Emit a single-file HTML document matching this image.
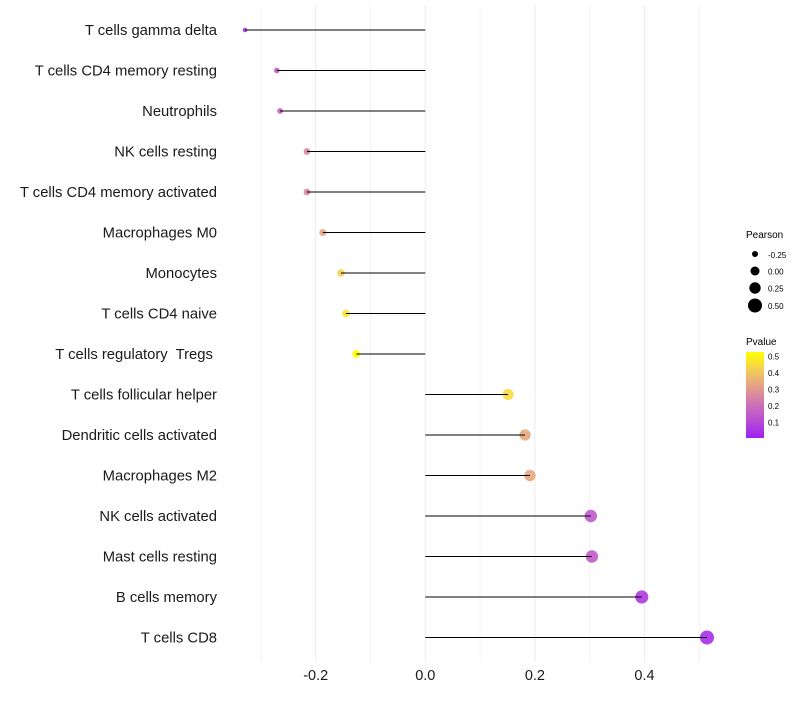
<!DOCTYPE html>
<html><head><meta charset="utf-8"><style>
body{margin:0;background:#fff;}
svg text{font-family:"Liberation Sans",sans-serif;}
</style></head><body>
<svg id="chart" width="800" height="700" xmlns="http://www.w3.org/2000/svg">
<defs><linearGradient id="pg" x1="0" y1="1" x2="0" y2="0">
<stop offset="0" stop-color="#A020F0"/><stop offset="0.19" stop-color="#B64BD6"/>
<stop offset="0.38" stop-color="#CC70B8"/><stop offset="0.58" stop-color="#E29C8C"/>
<stop offset="0.77" stop-color="#F2C85E"/><stop offset="1" stop-color="#FFFF00"/></linearGradient></defs>
<g id="grid"></g>
<g id="marks"></g>
<g id="ylabels"></g>
<g id="xlabels"></g>
<g>
<text x="746" y="238" font-size="10" fill="#000">Pearson</text>
<circle cx="755" cy="254" r="3" fill="#000"/><text x="768" y="258" font-size="8">-0.25</text>
<circle cx="755" cy="271" r="4.5" fill="#000"/><text x="768" y="274.5" font-size="8">0.00</text>
<circle cx="755" cy="288" r="5.7" fill="#000"/><text x="768" y="291.5" font-size="8">0.25</text>
<circle cx="755" cy="305.5" r="7" fill="#000"/><text x="768" y="309" font-size="8">0.50</text>
</g>
<g>
<text x="746" y="345" font-size="10" fill="#000">Pvalue</text>
<rect x="746" y="352" width="18" height="86" fill="url(#pg)"/>
<text x="768" y="359.5" font-size="8">0.5</text>
<text x="768" y="376" font-size="8">0.4</text>
<text x="768" y="392.5" font-size="8">0.3</text>
<text x="768" y="409" font-size="8">0.2</text>
<text x="768" y="425.5" font-size="8">0.1</text>
</g>
</svg>
<script>
const categories=["T cells gamma delta","T cells CD4 memory resting","Neutrophils","NK cells resting","T cells CD4 memory activated","Macrophages M0","Monocytes","T cells CD4 naive","T cells regulatory  Tregs ","T cells follicular helper","Dendritic cells activated","Macrophages M2","NK cells activated","Mast cells resting","B cells memory","T cells CD8"];
const pearson=[-0.329,-0.271,-0.265,-0.216,-0.216,-0.187,-0.154,-0.145,-0.126,0.151,0.182,0.191,0.302,0.304,0.395,0.514];
const pvalue=[0.04,0.15,0.16,0.25,0.25,0.32,0.42,0.46,0.52,0.44,0.33,0.33,0.14,0.14,0.06,0.03];
const xTicks=[-0.2,0,0.2,0.4];
const xTickLabels=["-0.2","0.0","0.2","0.4"];
const minorTicks=[-0.3,-0.1,0.1,0.3,0.5];
const NS="http://www.w3.org/2000/svg";
const x=v=>425.3+v*548;
const y=i=>30+i*40.5;
const rad=v=>Math.sqrt(Math.max(4,49-53*(0.5-v)));
const stops=[[0,[160,32,240]],[0.1,[182,75,214]],[0.2,[204,112,184]],[0.3,[226,156,140]],[0.4,[242,200,94]],[0.52,[255,255,0]]];
function col(p){p=Math.max(0,Math.min(0.52,p));for(let k=1;k<stops.length;k++){if(p<=stops[k][0]){const a=stops[k-1],b=stops[k],t=(p-a[0])/(b[0]-a[0]);return "rgb("+a[1].map((c,j)=>Math.round(c+(b[1][j]-c)*t)).join(",")+")";}}return "#ff0";}
function mk(t,a,parent){const e=document.createElementNS(NS,t);for(const k in a)e.setAttribute(k,a[k]);parent.appendChild(e);return e;}
const grid=document.getElementById('grid'),marks=document.getElementById('marks'),yl=document.getElementById('ylabels'),xl=document.getElementById('xlabels');
minorTicks.forEach(v=>{const l=mk('line',{x1:x(v),x2:x(v),y1:5,y2:662,stroke:'#f2f2f2','stroke-width':1},grid);

});
xTicks.forEach((v,i)=>{const l=mk('line',{x1:x(v),x2:x(v),y1:5,y2:662,stroke:'#ebebeb','stroke-width':1},grid);


const t=mk('text',{x:x(v),y:680,'font-size':14.5,'text-anchor':'middle',fill:'#1a1a1a'},xl);t.textContent=xTickLabels[i];

});
categories.forEach((c,i)=>{
const t=mk('text',{x:217,y:y(i)+5,'font-size':14.8,'text-anchor':'end',fill:'#1a1a1a',style:'white-space:pre'},yl);t.textContent=c;


const cir=mk('circle',{cx:x(pearson[i]),cy:y(i),r:rad(pearson[i]),fill:col(pvalue[i]),'fill-opacity':0.9},marks);


const l=mk('line',{x1:x(0),x2:x(pearson[i]),y1:y(i),y2:y(i),stroke:'#000','stroke-width':1.1},marks);


});
</script>
</body></html>
